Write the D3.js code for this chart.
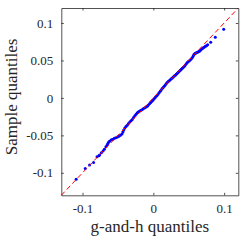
<!DOCTYPE html>
<html>
<head>
<meta charset="utf-8">
<script src="https://cdn.jsdelivr.net/npm/d3@7"></script>
<style>
  html, body { margin: 0; padding: 0; background: #fff; }
</style>
</head>
<body>
<figure id="qq" style="margin:0"></figure>
<script>
// theoretical g-and-h quantiles (x) and sorted sample quantiles (y)
const ghQuantiles = [
  -0.1090, -0.0962, -0.0901, -0.0844, -0.0795, -0.0770, -0.0759, -0.0734, -0.0710, -0.0692,
  -0.0670, -0.0653, -0.0642, -0.0631, -0.0614, -0.0592, -0.0571, -0.0550, -0.0528, -0.0507,
  -0.0486, -0.0465, -0.0443, -0.0429, -0.0418, -0.0403, -0.0386, -0.0369, -0.0351, -0.0332,
  -0.0315, -0.0298, -0.0280, -0.0261, -0.0244, -0.0227, -0.0209, -0.0190, -0.0173, -0.0156,
  -0.0138, -0.0119, -0.0102, -0.0085, -0.0070, -0.0053, -0.0036, -0.0020, -0.0003, 0.0011,
  0.0026, 0.0040, 0.0054, 0.0068, 0.0082, 0.0097, 0.0111, 0.0125, 0.0139, 0.0153,
  0.0168, 0.0182, 0.0196, 0.0210, 0.0224, 0.0239, 0.0253, 0.0267, 0.0281, 0.0295,
  0.0310, 0.0324, 0.0338, 0.0352, 0.0366, 0.0381, 0.0395, 0.0409, 0.0423, 0.0438,
  0.0452, 0.0466, 0.0480, 0.0494, 0.0509, 0.0523, 0.0537, 0.0551, 0.0563, 0.0572,
  0.0584, 0.0594, 0.0608, 0.0622, 0.0636, 0.0651, 0.0665, 0.0679, 0.0693, 0.0707,
  0.0722, 0.0736, 0.0750, 0.0767, 0.0810, 0.0875, 0.0994
];
const sampleQuantiles = [
  -0.1085, -0.0943, -0.0895, -0.0863, -0.0784, -0.0773, -0.0762, -0.0733, -0.0709, -0.0687,
  -0.0653, -0.0627, -0.0607, -0.0590, -0.0574, -0.0560, -0.0551, -0.0540, -0.0531, -0.0522,
  -0.0511, -0.0498, -0.0481, -0.0454, -0.0428, -0.0401, -0.0381, -0.0364, -0.0341, -0.0321,
  -0.0304, -0.0288, -0.0262, -0.0238, -0.0218, -0.0199, -0.0186, -0.0175, -0.0165, -0.0155,
  -0.0142, -0.0131, -0.0121, -0.0112, -0.0096, -0.0078, -0.0062, -0.0046, -0.0029, -0.0012,
  0.0004, 0.0021, 0.0037, 0.0053, 0.0070, 0.0088, 0.0106, 0.0124, 0.0139, 0.0157,
  0.0173, 0.0190, 0.0206, 0.0219, 0.0230, 0.0243, 0.0254, 0.0266, 0.0279, 0.0292,
  0.0303, 0.0316, 0.0329, 0.0343, 0.0356, 0.0369, 0.0382, 0.0396, 0.0409, 0.0422,
  0.0438, 0.0456, 0.0471, 0.0485, 0.0495, 0.0509, 0.0522, 0.0538, 0.0558, 0.0575,
  0.0588, 0.0595, 0.0602, 0.0608, 0.0615, 0.0622, 0.0635, 0.0648, 0.0661, 0.0671,
  0.0679, 0.0688, 0.0697, 0.0710, 0.0744, 0.0810, 0.0916
];
const xTicks = [-0.1, 0, 0.1];
const yTicks = [-0.1, -0.05, 0, 0.05, 0.1];
const xDomain = [-0.13, 0.12];
const yDomain = [-0.13, 0.12];

const W = 245, H = 245;
const mLeft = 61.3, mRight = 238.3, mTop = 8, mBottom = 195.3;
const serif = "'Liberation Serif', 'DejaVu Serif', serif";

const svg = d3.select("figure#qq")
  .append("svg")
  .attr("width", W)
  .attr("height", H);

const x = d3.scaleLinear().domain(xDomain).range([mLeft, mRight]);
const y = d3.scaleLinear().domain(yDomain).range([mBottom, mTop]);

const fmt = d => d === 0 ? "0" : String(d);

// points
const pts = ghQuantiles.map((g, i) => ({ g: g, s: sampleQuantiles[i] }));
svg.append("g")
  .selectAll("circle")
  .data(pts)
  .enter()
  .append("circle")
  .attr("cx", d => x(d.g))
  .attr("cy", d => y(d.s))
  .attr("r", 1.5)
  .attr("fill", "#0000ff");

// reference line y = x
svg.append("line")
  .attr("x1", x(xDomain[0])).attr("y1", y(xDomain[0]))
  .attr("x2", x(xDomain[1])).attr("y2", y(xDomain[1]))
  .attr("stroke", "#ff0000")
  .attr("stroke-width", 1)
  .attr("stroke-dasharray", "5,3");

// axes (ticks inside, on all four sides)
const tk = 2.5;
const styleTicks = g => g.attr("font-family", serif).attr("font-size", 13)
  .selectAll("text").attr("fill", "#262626");
svg.append("g")
  .attr("transform", "translate(0," + mBottom + ")")
  .call(d3.axisBottom(x).tickValues(xTicks).tickSizeInner(-tk).tickSizeOuter(0).tickPadding(8).tickFormat(fmt))
  .call(styleTicks);
svg.append("g")
  .attr("transform", "translate(0," + mTop + ")")
  .call(d3.axisTop(x).tickValues(xTicks).tickSizeInner(-tk).tickSizeOuter(0).tickFormat(""));
svg.append("g")
  .attr("transform", "translate(" + mLeft + ",0)")
  .call(d3.axisLeft(y).tickValues(yTicks).tickSizeInner(-tk).tickSizeOuter(0).tickPadding(8).tickFormat(fmt))
  .call(styleTicks);
svg.append("g")
  .attr("transform", "translate(" + mRight + ",0)")
  .call(d3.axisRight(y).tickValues(yTicks).tickSizeInner(-tk).tickSizeOuter(0).tickFormat(""));

svg.selectAll(".domain").attr("stroke", "#262626").attr("stroke-width", 0.8);
svg.selectAll(".tick line").attr("stroke", "#262626").attr("stroke-width", 0.8);

// labels
svg.append("text")
  .attr("x", (mLeft + mRight) / 2)
  .attr("y", 232)
  .attr("text-anchor", "middle")
  .attr("font-family", serif)
  .attr("font-size", 17)
  .attr("fill", "#262626")
  .text("g-and-h quantiles");

svg.append("text")
  .attr("transform", "translate(17," + 97 + ")rotate(-90)")
  .attr("text-anchor", "middle")
  .attr("font-family", serif)
  .attr("font-size", 17)
  .attr("fill", "#262626")
  .text("Sample quantiles");
</script>
</body>
</html>
